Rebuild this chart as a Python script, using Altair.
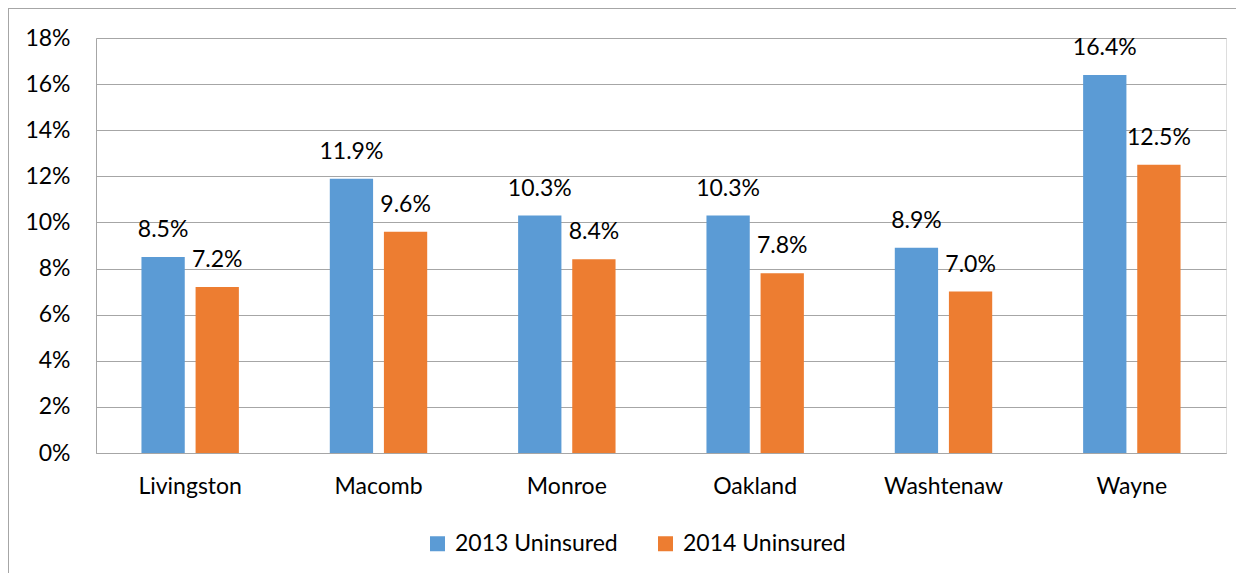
import altair as alt
import pandas as pd

counties = ["Livingston", "Macomb", "Monroe", "Oakland", "Washtenaw", "Wayne"]
series_names = ["2013 Uninsured", "2014 Uninsured"]
uninsured_2013 = [0.085, 0.119, 0.103, 0.103, 0.089, 0.164]
uninsured_2014 = [0.072, 0.096, 0.084, 0.078, 0.070, 0.125]
colors = ["#5B9BD5", "#ED7D31"]

rows = []
for i, c in enumerate(counties):
    rows.append({"county": c, "series": series_names[0], "value": uninsured_2013[i]})
    rows.append({"county": c, "series": series_names[1], "value": uninsured_2014[i]})
df = pd.DataFrame(rows)

FONT = "Lato"
FS = 23
W, H = 1130, 415

x = alt.X("county:N", sort=counties, title=None,
          scale=alt.Scale(paddingInner=0, paddingOuter=0),
          axis=alt.Axis(labelAngle=0, labelFontSize=FS, labelPadding=22, ticks=False,
                        domainColor="#A6A6A6", labelColor="#000000", labelFont=FONT,
                        labelLimit=0))
xo = alt.XOffset("series:N", sort=series_names,
                 scale=alt.Scale(paddingInner=0.2, paddingOuter=0.84))
y = alt.Y("value:Q", title=None,
          scale=alt.Scale(domain=[0, 0.18], nice=False),
          axis=alt.Axis(format=".0%", values=[i / 100 for i in range(0, 19, 2)],
                        labelFontSize=FS, labelPadding=26, ticks=False, domain=True,
                        domainColor="#A6A6A6", gridColor="#A6A6A6", labelColor="#000000",
                        labelFont=FONT))
color = alt.Color("series:N", sort=series_names,
                  scale=alt.Scale(domain=series_names, range=colors),
                  legend=alt.Legend(title=None, orient="none", legendX=330, legendY=494,
                                    direction="horizontal", symbolType="square",
                                    symbolSize=225, symbolStrokeWidth=0, labelFontSize=FS,
                                    labelFont=FONT, labelColor="#000000", labelOffset=6,
                                    labelLimit=0, columnPadding=36))

bars = alt.Chart(df).mark_bar().encode(x=x, xOffset=xo, y=y, color=color)
labels = alt.Chart(df).mark_text(baseline="alphabetic", dy=-20, fontSize=FS, font=FONT,
                                 color="#000000").encode(
    x=x, xOffset=xo, y=y, text=alt.Text("value:Q", format=".1%"))

border_left = alt.Chart(df).mark_rule(color="#A6A6A6", strokeWidth=1.5).encode(
    x=alt.value(-88), y=alt.value(-30), y2=alt.value(H + 130))
border_top = alt.Chart(df).mark_rule(color="#A6A6A6", strokeWidth=1.5).encode(
    x=alt.value(-88), x2=alt.value(W + 20), y=alt.value(-30))

chart = alt.layer(bars, labels, border_left, border_top).properties(
    width=W, height=H,
    autosize=alt.AutoSizeParams(type="none"),
    padding={"left": 88, "top": 30, "right": 10, "bottom": 120},
).configure_view(stroke=None).configure(background="white")

chart.save("out.html", embed_options={"renderer": "svg", "actions": False})
